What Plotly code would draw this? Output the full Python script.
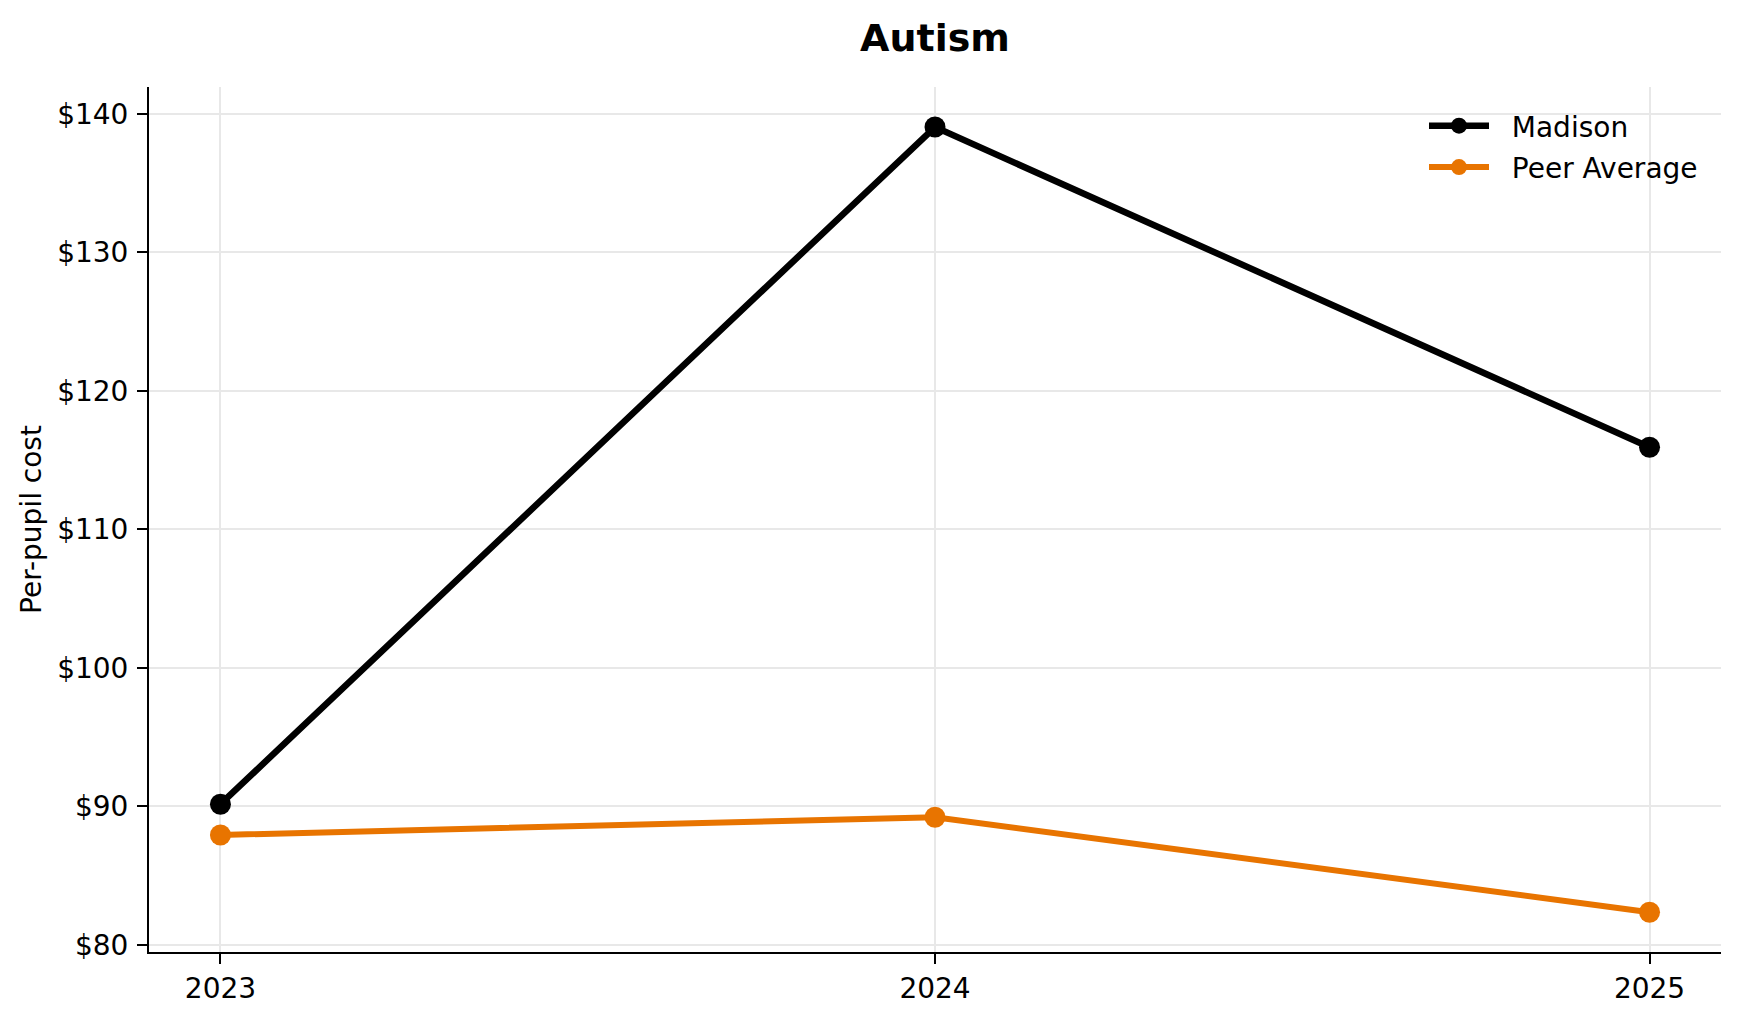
import plotly.graph_objects as go

years = [2023, 2024, 2025]
madison = [90.16, 139.06, 115.94]
peer_avg = [87.94, 89.22, 82.36]
series_names = ["Madison", "Peer Average"]
y_ticks = [80, 90, 100, 110, 120, 130, 140]
y_tick_labels = ["$80", "$90", "$100", "$110", "$120", "$130", "$140"]

FONT = "DejaVu Sans"
W, H = 1723, 1003
L, R, T, B = 141, 10, 79, 59
PW, PH = W - L - R, H - T - B
PAD = "\u00a0\u00a0"

fig = go.Figure()
fig.add_trace(go.Scatter(
    x=years, y=madison, name=PAD + series_names[0], mode="lines+markers",
    line=dict(color="#000000", width=6.5),
    marker=dict(color="#000000", size=21),
    legendgroup="a",
))
fig.add_trace(go.Scatter(
    x=years, y=peer_avg, name=PAD + series_names[1], mode="lines+markers",
    line=dict(color="#E87400", width=6),
    marker=dict(color="#E87400", size=21),
    legendgroup="b",
))

axis_common = dict(
    showline=True, linecolor="#000000", linewidth=2,
    ticks="outside", ticklen=10, tickwidth=2, tickcolor="#000000",
    showgrid=True, gridcolor="#e8e8e8", gridwidth=2,
    zeroline=False, mirror=False,
    tickfont=dict(family=FONT, size=28, color="#000000"),
)

fig.update_xaxes(
    range=[2022.9, 2025.1], tickvals=years, ticktext=[str(y) for y in years],
    **axis_common,
)
fig.update_yaxes(
    range=[79.49, 141.95], tickvals=y_ticks, ticktext=y_tick_labels,
    ticklabelstandoff=3,
    title=dict(text="Per-pupil cost", font=dict(family=FONT, size=28, color="#000000"), standoff=7),
    **axis_common,
)

fig.update_layout(
    width=W, height=H,
    margin=dict(l=L, r=R, t=T, b=B, autoexpand=False),
    paper_bgcolor="white", plot_bgcolor="white",
    font=dict(family=FONT, color="#000000"),
    title=dict(text="<b>Autism</b>", x=0.5, xref="paper", xanchor="center",
               y=1 - 30 / H, yref="container", yanchor="middle",
               font=dict(family=FONT, size=38, color="#000000")),
    legend=dict(
        x=(1416 - L) / PW, y=1 - 14 / PH,
        xanchor="left", yanchor="top",
        font=dict(family=FONT, size=28, color="#000000"),
        bgcolor="rgba(255,255,255,0)", borderwidth=0,
        tracegroupgap=2, itemwidth=60,
    ),
    showlegend=True,
)

fig.write_html("out.html")
